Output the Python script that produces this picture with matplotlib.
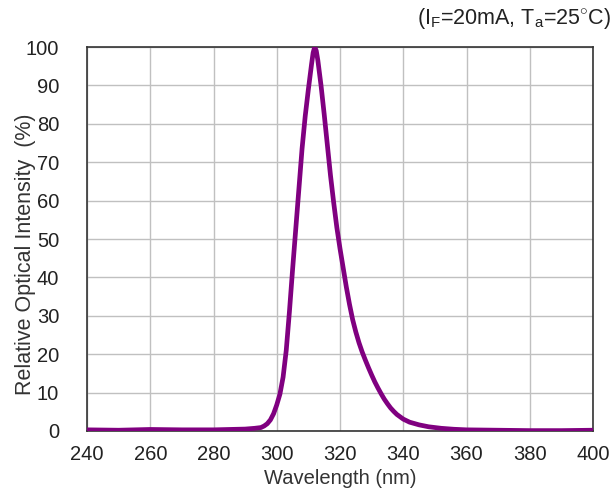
import matplotlib
matplotlib.use("Agg")
from matplotlib import pyplot

pyplot.rcParams["font.family"] = ["Liberation Sans", "DejaVu Sans"]
pyplot.rcParams["mathtext.fontset"] = "custom"
pyplot.rcParams["mathtext.rm"] = "Liberation Sans"

# spectrum
wavelength = [240, 250, 260, 270, 280, 285, 290, 293, 295, 296, 297, 298, 299,
              300, 301, 302, 303, 304, 305, 306, 307, 308, 309, 310, 311, 311.5,
              312, 312.5, 313, 314, 315, 316, 317, 318, 319, 320, 321, 322, 323,
              324, 325, 326, 327, 328, 329, 330, 331, 332, 333, 334, 335, 336,
              337, 338, 340, 342, 345, 348, 352, 356, 360, 370, 380, 390, 400]
intensity = [0.3, 0.2, 0.4, 0.3, 0.3, 0.4, 0.5, 0.7, 0.9, 1.3, 1.9, 2.9, 4.5,
             6.8, 9.6, 14, 21, 31, 42, 52.5, 63, 73.5, 82, 89, 95.5, 98.5,
             100, 99, 96.5, 90, 82.5, 74.5, 66.5, 59.5, 53, 47.5, 42.5, 37.5, 33,
             29, 25.8, 23, 20.6, 18.5, 16.5, 14.6, 12.8, 11.2, 9.7, 8.3, 7.1, 6.0,
             5.1, 4.3, 3.1, 2.3, 1.6, 1.1, 0.7, 0.45, 0.3, 0.2, 0.1, 0.1, 0.2]

xticks = list(range(240, 401, 20))
yticks = list(range(0, 101, 10))

fig = pyplot.figure(figsize=(6.14, 4.95), dpi=100)
ax = fig.add_axes([0.1417, 0.1293, 0.8241, 0.7757])

ax.plot(wavelength, intensity, color="#800080", lw=3.4,
        solid_capstyle="round", solid_joinstyle="round", zorder=3)

ax.set_xlim(240, 400)
ax.set_ylim(0, 100)
ax.set_xticks(xticks)
ax.set_yticks(yticks)
ax.grid(True, color="#c0c0c0", lw=1.0)
ax.tick_params(length=0, labelsize=14.5, colors="#222222")
ax.tick_params(axis="y", pad=20)
ax.tick_params(axis="x", pad=10)
for sp in ax.spines.values():
    sp.set_color("#333333")
    sp.set_linewidth(1.2)

ax.set_xlabel("Wavelength (nm)", fontsize=14.5, color="#333333", labelpad=4)
ax.set_ylabel("Relative Optical Intensity  (%)", fontsize=15.5, color="#333333")
ax.yaxis.set_label_coords(-0.1, 0.46)

fig.text(0.995, 0.962, r"(I$_\mathrm{F}$=20mA, T$_\mathrm{a}$=25$^{\circ}$C)",
         ha="right", va="center", fontsize=15.5, color="#222222")

fig.savefig("out.png", dpi=100)
